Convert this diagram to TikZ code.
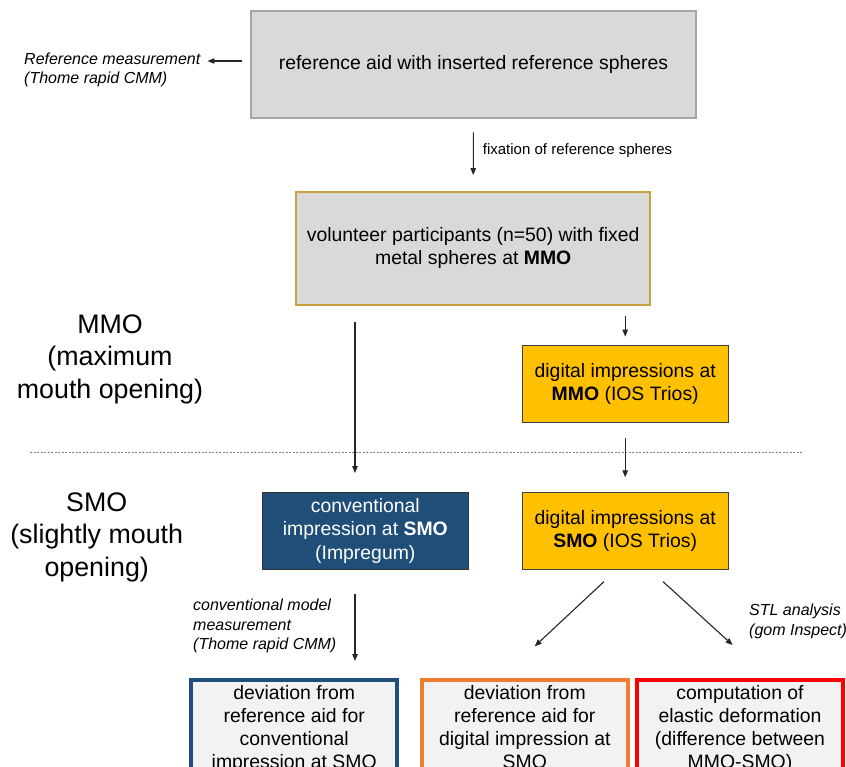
\documentclass[tikz,border=0pt]{standalone}
\usepackage{fontspec}
\setmainfont{Liberation Sans}
\usetikzlibrary{arrows.meta}
\definecolor{boxgrey}{HTML}{D9D9D9}
\definecolor{edgegrey}{HTML}{A6A6A6}
\definecolor{goldedge}{HTML}{C9A13F}
\definecolor{amber}{HTML}{FFC000}
\definecolor{navy}{HTML}{1F4E79}
\definecolor{orangeedge}{HTML}{ED7D31}
\definecolor{rededge}{HTML}{FF0000}
\definecolor{resultfill}{HTML}{F2F2F2}
\begin{document}
\begin{tikzpicture}[x=1pt,y=-1pt,
    box/.style={draw, align=center, inner sep=0pt, font=\fontsize{19.4}{23.3}\selectfont},
    greybox/.style={box, fill=boxgrey, draw=edgegrey, line width=1.5pt},
    goldbox/.style={box, fill=boxgrey, draw=goldedge, line width=1.5pt},
    yellowbox/.style={box, fill=amber, draw=black!75, line width=1.2pt,
      minimum width=206pt, minimum height=77pt},
    bluebox/.style={box, fill=navy, draw=black!80, line width=1.2pt, text=white,
      minimum width=206pt, minimum height=77pt},
    resultbox/.style={box, fill=resultfill, line width=4pt, anchor=north,
      minimum width=205.6pt, inner ysep=5pt},
    phase/.style={align=center, inner sep=0pt, font=\fontsize{26.8}{32.5}\selectfont},
    note/.style={align=left, inner sep=0pt, font=\itshape\fontsize{16}{19.6}\selectfont},
    arr/.style={-{Triangle[length=7pt,width=5.5pt]}, line width=1.1pt, draw=black!85},
    sep/.style={draw=black!50, line width=0.8pt, dash pattern=on 2pt off 1.5pt}]
  \useasboundingbox (0,0) rectangle (846,766);
  \clip (0,0) rectangle (846,766);

  % boxes
  \node[greybox, minimum width=445pt, minimum height=107pt] (ref) at (473.5,64.5)
    {reference aid with inserted reference spheres};
  \node[goldbox, minimum width=354pt, minimum height=113pt] (vol) at (473.2,248.3)
    {volunteer participants (n=50) with fixed\\metal spheres at \textbf{MMO}};
  \node[yellowbox] (dmmo) at (625.2,383.7) {digital impressions at\\\textbf{MMO} (IOS Trios)};
  \node[bluebox] (conv) at (365.3,530.8) {conventional\\impression at \textbf{SMO}\\(Impregum)};
  \node[yellowbox] (dsmo) at (625.2,530.8) {digital impressions at\\\textbf{SMO} (IOS Trios)};
  \node[resultbox, draw=navy] (dev1) at (294.2,678)
    {deviation from\\reference aid for\\conventional\\impression at SMO};
  \node[resultbox, draw=orangeedge] (dev2) at (524.8,678)
    {deviation from\\reference aid for\\digital impression at\\SMO};
  \node[resultbox, draw=rededge] (dev3) at (740,678)
    {computation of\\elastic deformation\\(difference between\\MMO-SMO)};

  % phase labels and notes
  \node[phase] (mmo) at (110,359) {MMO\\(maximum\\mouth opening)};
  \node[phase] (smo) at (96.7,537.2) {SMO\\(slightly mouth\\opening)};
  \node[note, anchor=west] (refmeas) at (24,70) {Reference measurement\\(Thome rapid CMM)};
  \node[note, anchor=west] (convmeas) at (193,626.2)
    {conventional model\\measurement\\(Thome rapid CMM)};
  \node[note, anchor=west] (stl) at (749,621.5) {STL analysis\\(gom Inspect)};

  % separator
  \coordinate (sepL) at (30,452);
  \coordinate (sepR) at (802,452);
  \draw[sep] (sepL) -- (sepR);

  % connectors
  \coordinate (tap) at ([yshift=3.5pt]ref.west);
  \coordinate (lane) at (355,0);
  \draw[arr, shorten <=8.7pt, shorten >=7pt] (tap) -- (tap -| refmeas.east);
  \draw[arr, shorten <=13.7pt, shorten >=16pt] (ref.south) --
    node[midway, anchor=west, xshift=9pt, yshift=3.8pt, inner sep=0pt,
      font=\fontsize{15}{18}\selectfont] (fix) {fixation of reference spheres} (vol.north);
  \draw[arr, shorten <=16pt, shorten >=18.7pt] (vol.south -| lane) -- (conv.north -| lane);
  \draw[arr, shorten <=10pt, shorten >=8pt] (vol.south -| dmmo.north) -- (dmmo.north);
  \draw[arr, shorten <=14.7pt, shorten >=14.4pt] (dmmo.south) -- (dsmo.north);
  \draw[arr, shorten <=24pt, shorten >=17pt] (conv.south -| lane) -- (dev1.north -| lane);
  \draw[arr] ([xshift=-21.2pt,yshift=-11.7pt]dsmo.south) -- ([xshift=9.9pt,yshift=31.7pt]dev2.north);
  \draw[arr] ([xshift=37.8pt,yshift=-11.7pt]dsmo.south) -- ([xshift=-7.4pt,yshift=33pt]dev3.north);
\end{tikzpicture}
\end{document}
